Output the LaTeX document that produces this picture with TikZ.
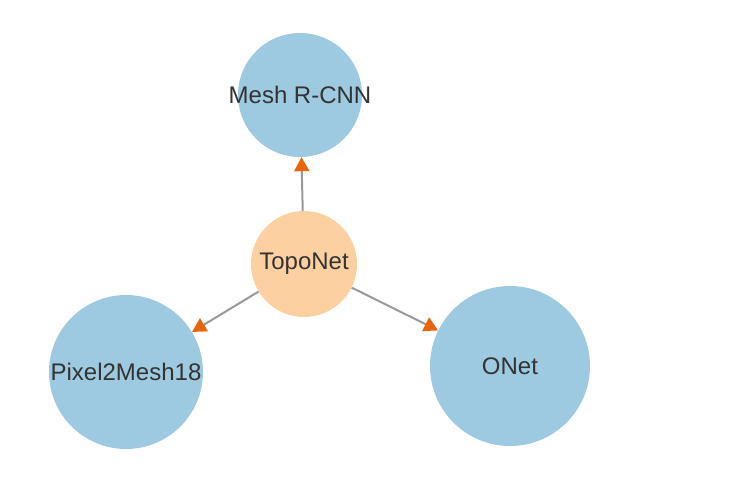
\documentclass[tikz,border=0pt]{standalone}
\usepackage{fontspec}
\setmainfont{Liberation Sans}
\usepackage{xcolor}
\usetikzlibrary{arrows.meta}
\definecolor{paperblue}{HTML}{9ECAE1}
\definecolor{topoorange}{HTML}{FDD0A2}
\definecolor{tiporange}{HTML}{E6650D}
\definecolor{edgegray}{HTML}{999999}
\definecolor{labelgray}{HTML}{333333}
\begin{document}
\begin{tikzpicture}[x=1pt,y=-1pt,->,>={Triangle[length=14pt,width=15pt,color=tiporange]},thin]
                \tikzset{paper/.style={circle, fill=paperblue, draw=none, inner sep=0pt, label={[text=labelgray, font=\fontsize{24}{24}\selectfont]center:#1}},
                         topo/.style={circle, fill=topoorange, draw=none, inner sep=0pt, label={[text=labelgray, font=\fontsize{24}{24}\selectfont]center:#1}},
                         every edge/.style={draw=edgegray, line width=2pt}}
                \useasboundingbox (0,0) rectangle (742,482);
                \node[paper={Mesh R-CNN}, minimum size=124pt] (M) at (300,95) {};
                \node[topo={TopoNet}, minimum size=106pt] (T) at (304,264) {};
                \node[paper={Pixel2Mesh18}, minimum size=154pt] (P) at (126,372) {};
                \node[paper={ONet}, minimum size=160pt] (O) at (510,366) {};
                \path (T) edge              node {} (M);
                \path (T) edge              node {} (P);
                \path (T) edge              node {} (O);
            \end{tikzpicture}
\end{document}
